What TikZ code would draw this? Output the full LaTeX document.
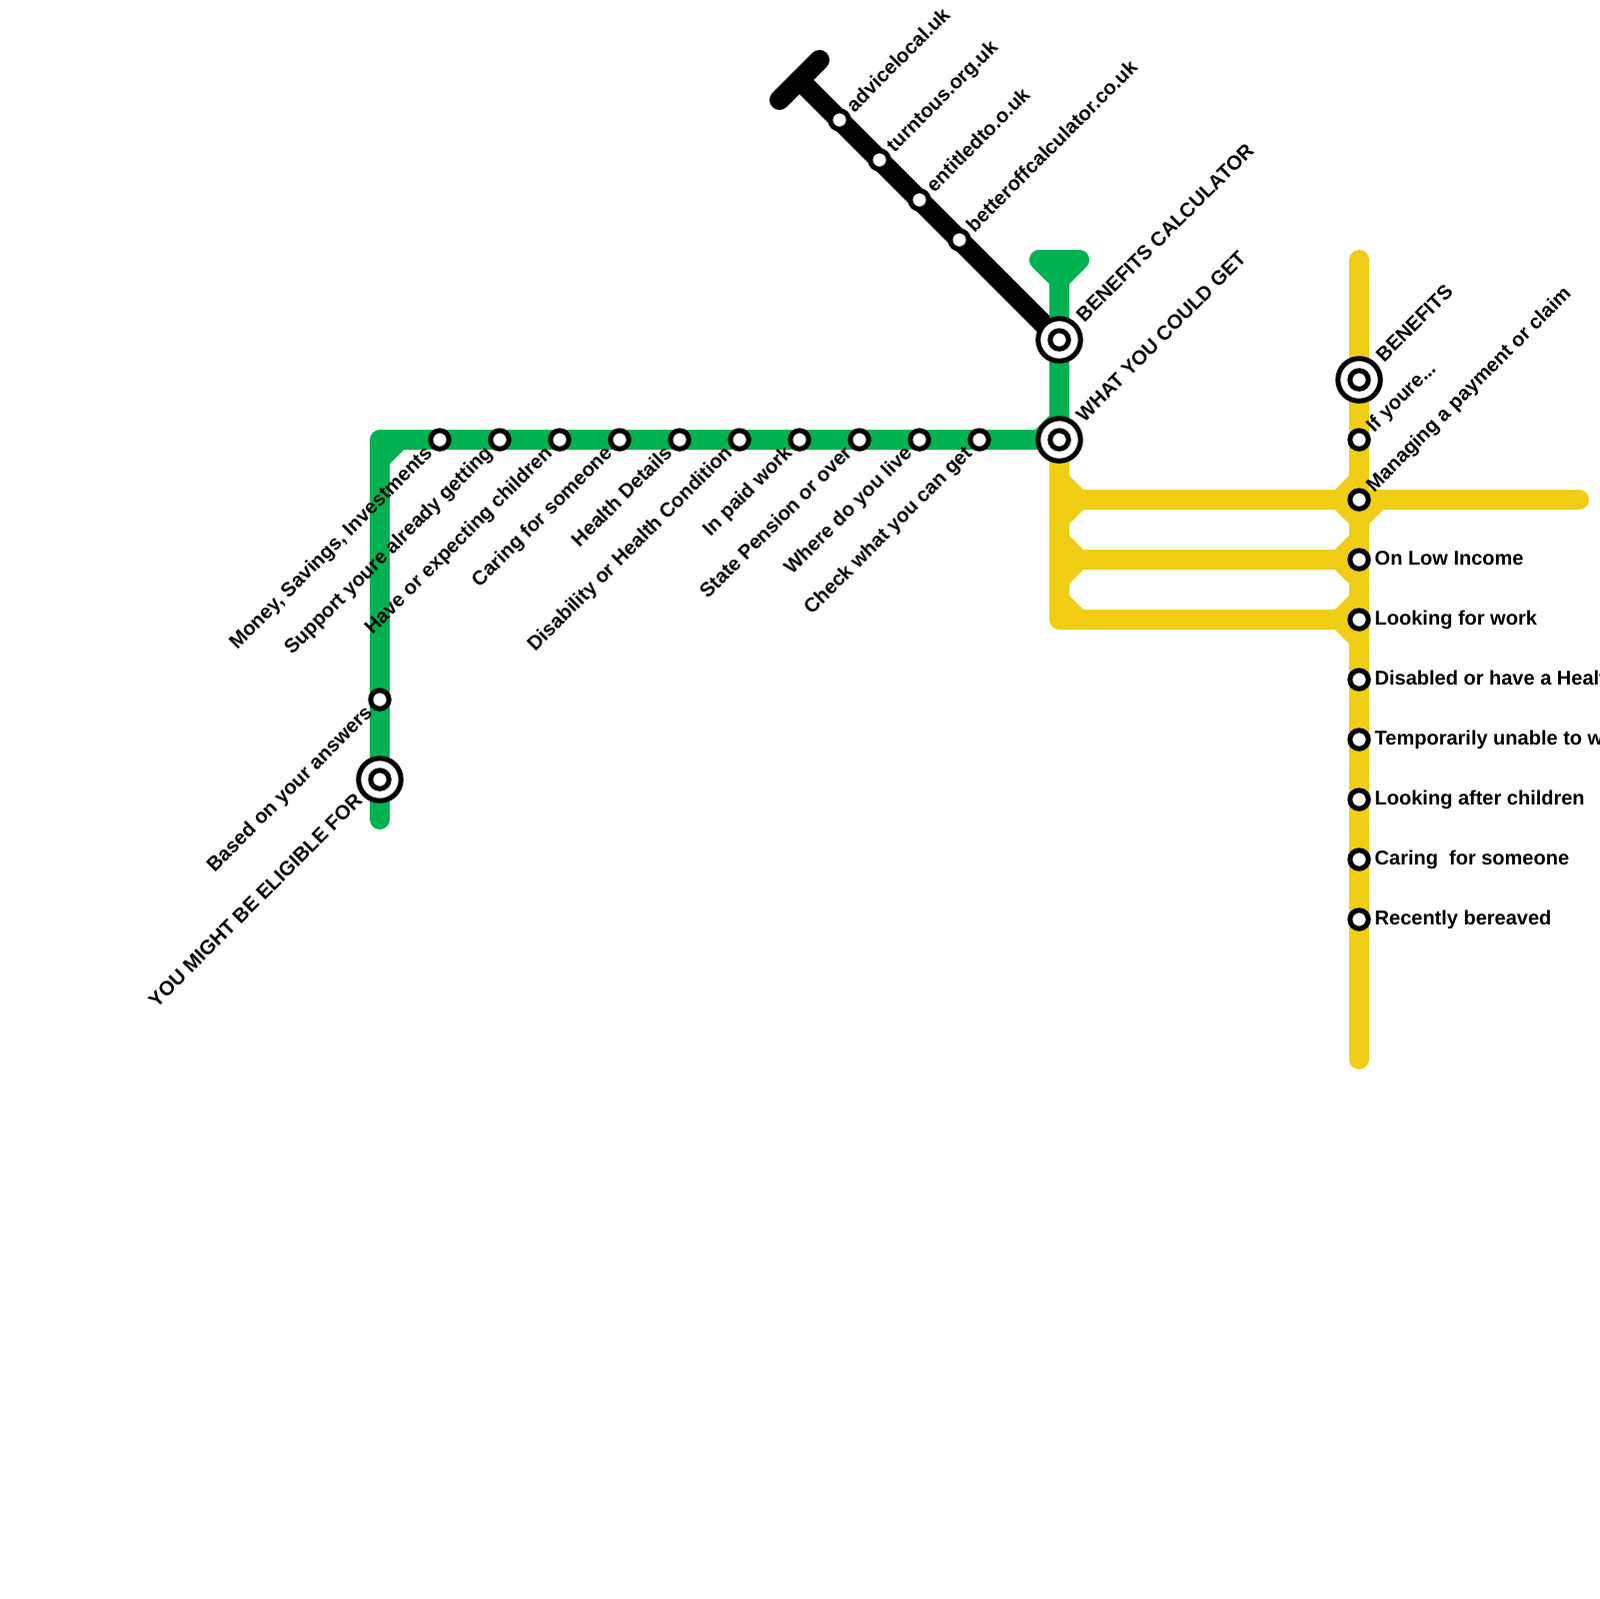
\documentclass[tikz,border=0pt]{standalone}
\usepackage{fontspec}
\setmainfont{Liberation Sans}
\usetikzlibrary{positioning,calc,backgrounds}
\definecolor{linegreen}{HTML}{00B251}
\definecolor{lineyellow}{HTML}{F0CE15}

\begin{document}
\begin{tikzpicture}[x=0.1mm,y=-0.1mm,node distance=6mm,on grid,
    stop/.style={circle,draw=black,fill=white,line width=0.5mm,minimum size=1.84mm,inner sep=0pt},
    hub/.style={circle,draw=black,fill=white,line width=0.5mm,minimum size=4.25mm,inner sep=0pt},
    tag/.style={inner sep=0pt,font=\bfseries\fontsize{5.69}{7}\selectfont,text=black},
    tagup/.style={tag,anchor=base west,xshift=1.45mm,yshift=0.65mm,rotate=45},
    tagdown/.style={tag,anchor=base east,xshift=-0.6mm,yshift=-1.4mm,rotate=45},
    tagside/.style={tag,anchor=base west,xshift=1.5mm,yshift=-0.5mm},
    hubup/.style={tag,anchor=base west,xshift=2.45mm,yshift=1.65mm,rotate=45},
    hubdown/.style={tag,anchor=base east,xshift=-1.6mm,yshift=-2.2mm,rotate=45},
    blackline/.style={draw=black,line width=2mm,line cap=round,line join=round},
    greenline/.style={draw=linegreen,line width=2mm,line cap=round,line join=round},
    yellowline/.style={draw=lineyellow,line width=2mm,line cap=round,line join=round}]
  \useasboundingbox (0,0) rectangle (1600,1600);
  % green line
  \node[hub] (whatring) at (1060,440) {};
  \node[stop] (what) at (whatring) {};
  \node[hub] (calcring) at (1060,340) {};
  \node[stop] (calc) at (calcring) {};
  \node[stop] (check) at (980,440) {};
  \node[stop,left=of check] (live) {};
  \node[stop,left=of live] (pension) {};
  \node[stop,left=of pension] (paidwork) {};
  \node[stop,left=of paidwork] (disability) {};
  \node[stop,left=of disability] (health) {};
  \node[stop,left=of health] (caring) {};
  \node[stop,left=of caring] (expecting) {};
  \node[stop,left=of expecting] (support) {};
  \node[stop,left=of support] (money) {};
  \node[stop] (answers) at (380,700) {};
  \node[hub] (eligiblering) at (380,780) {};
  \node[stop] (eligible) at (eligiblering) {};
  % black line
  \node[stop] (advice) at (840,120) {};
  \node[stop] (turn) at (880,160) {};
  \node[stop] (entitled) at (920,200) {};
  \node[stop] (betteroff) at (960,240) {};
  % yellow line
  \node[hub] (benefitsring) at (1360,380) {};
  \node[stop] (benefits) at (benefitsring) {};
  \node[stop] (youre) at (1360,440) {};
  \node[stop,below=of youre] (managing) {};
  \node[stop,below=of managing] (lowincome) {};
  \node[stop,below=of lowincome] (lookwork) {};
  \node[stop,below=of lookwork] (disabled) {};
  \node[stop,below=of disabled] (unable) {};
  \node[stop,below=of unable] (children) {};
  \node[stop,below=of children] (someone) {};
  \node[stop,below=of someone] (bereaved) {};
  % line ends and corners
  \coordinate (blackbar) at (800,80);
  \coordinate (blackbarl) at (780,100);
  \coordinate (blackbarr) at (820,60);
  \coordinate (greenl) at (1040,260);
  \coordinate (greenr) at (1080,260);
  \coordinate (greentop) at (1060,280);
  \coordinate (greencorner) at (380,440);
  \coordinate (greenend) at (380,820);
  \coordinate (yellowtop) at (1360,260);
  \coordinate (yellowend) at (1360,1060);
  \coordinate (yellowright) at (1580,500);
  \coordinate (forka) at (1060,500);
  \coordinate (forkb) at (1060,560);
  \coordinate (forkc) at (1060,620);
  \begin{pgfonlayer}{background}
    \draw[blackline] (blackbarl) -- (blackbarr);
    \draw[blackline] (blackbar) -- (calc.center);
    \draw[greenline] (greenl) -- (greenr) -- (greentop) -- cycle;
    \draw[greenline] (greentop) -- (what.center) -- (greencorner) -- (greenend);
    \draw[greenline] ($(greencorner)+(0,20)$) -- ($(greencorner)+(20,0)$);
    \draw[greenline] ($(what)+(-20,0)$) -- ($(what)+(0,-20)$);
    \draw[yellowline] (what.center) -- (forkc) -- (lookwork.center);
    \draw[yellowline] (forka) -- (yellowright);
    \draw[yellowline] (forkb) -- (lowincome.center);
    \draw[yellowline] (yellowtop) -- (yellowend);
    \draw[yellowline] ($(forka)+(0,-20)$) -- ($(forka)+(20,0)$) -- ($(forka)+(0,20)$);
    \draw[yellowline] ($(forkb)+(0,-20)$) -- ($(forkb)+(20,0)$) -- ($(forkb)+(0,20)$);
    \draw[yellowline] ($(forkc)+(0,-20)$) -- ($(forkc)+(20,0)$);
    \draw[yellowline] ($(managing)+(0,-20)$) -- ($(managing)+(-20,0)$) -- ($(managing)+(0,20)$) -- ($(managing)+(20,0)$);
    \draw[yellowline] ($(lowincome)+(0,-20)$) -- ($(lowincome)+(-20,0)$) -- ($(lowincome)+(0,20)$);
    \draw[yellowline] ($(lookwork)+(0,-20)$) -- ($(lookwork)+(-20,0)$) -- ($(lookwork)+(0,20)$);
  \end{pgfonlayer}
  % labels
  \node[tagup] (advicetag) at (advice) {advicelocal.uk};
  \node[tagup] (turntag) at (turn) {turntous.org.uk};
  \node[tagup] (entitledtag) at (entitled) {entitledto.o.uk};
  \node[tagup] (betterofftag) at (betteroff) {betteroffcalculator.co.uk};
  \node[hubup] (calctag) at (calc) {BENEFITS CALCULATOR};
  \node[hubup] (whattag) at (what) {WHAT YOU COULD GET};
  \node[tagdown] (checktag) at (check) {Check what you can get};
  \node[tagdown] (livetag) at (live) {Where do you live};
  \node[tagdown] (pensiontag) at (pension) {State Pension or over};
  \node[tagdown] (paidworktag) at (paidwork) {In paid work};
  \node[tagdown] (disabilitytag) at (disability) {Disability or Health Condition};
  \node[tagdown] (healthtag) at (health) {Health Details};
  \node[tagdown] (caringtag) at (caring) {Caring for someone};
  \node[tagdown] (expectingtag) at (expecting) {Have or expecting children};
  \node[tagdown] (supporttag) at (support) {Support youre already getting};
  \node[tagdown] (moneytag) at (money) {Money, Savings, Investments};
  \node[tagdown] (answerstag) at (answers) {Based on your answers};
  \node[hubdown] (eligibletag) at (eligible) {YOU MIGHT BE ELIGIBLE FOR};
  \node[hubup] (benefitstag) at (benefits) {BENEFITS};
  \node[tagup] (youretag) at (youre) {If youre...};
  \node[tagup] (managingtag) at (managing) {Managing a payment or claim};
  \node[tagside] (lowincometag) at (lowincome) {On Low Income};
  \node[tagside] (lookworktag) at (lookwork) {Looking for work};
  \node[tagside] (disabledtag) at (disabled) {Disabled or have a Health Condition};
  \node[tagside] (unabletag) at (unable) {Temporarily unable to work};
  \node[tagside] (childrentag) at (children) {Looking after children};
  \node[tagside] (someonetag) at (someone) {Caring\ \ for someone};
  \node[tagside] (bereavedtag) at (bereaved) {Recently bereaved};
\end{tikzpicture}
\end{document}
